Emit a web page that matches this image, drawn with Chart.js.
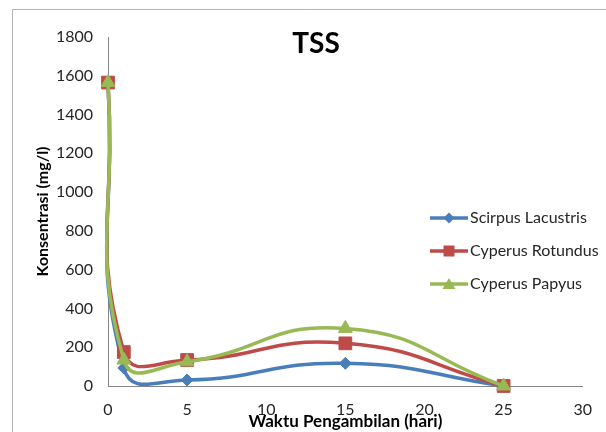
<!DOCTYPE html>
<html>
<head>
<meta charset="utf-8">
<script src="https://cdn.jsdelivr.net/npm/chart.js@4.4.1/dist/chart.umd.min.js"></script>
<style>
  html, body { margin: 0; padding: 0; background: #fff; }
  #wrap { width: 606px; height: 432px; position: relative; }
</style>
</head>
<body>
<div id="wrap"><canvas id="chart" width="606" height="432"></canvas></div>
<script>
const days = [0, 1, 5, 15, 25]
const scirpusLacustris = [1565, 93, 31, 117, 0]
const cyperusRotundus = [1565, 175, 134, 220, 0]
const cyperusPapyus = [1565, 134, 125, 297, 0]
const seriesNames = ['Scirpus Lacustris', 'Cyperus Rotundus', 'Cyperus Papyus']
const xTicks = [0, 5, 10, 15, 20, 25, 30]
const yTicks = [0, 200, 400, 600, 800, 1000, 1200, 1400, 1600, 1800]

const FONT = 'Lato, "Open Sans", sans-serif'
const TEXT = '#262626'

function toPoints(values) {
  return values.map((v, i) => ({ x: days[i], y: v }))
}

function makeDataset(label, values, color, style, radius, order) {
  return {
    label: label,
    data: toPoints(values),
    borderColor: color,
    backgroundColor: color,
    borderWidth: 3.5,
    showLine: true,
    tension: 0.5,
    pointStyle: style,
    pointRadius: radius,
    pointHoverRadius: radius,
    pointBorderWidth: 1,
    pointBackgroundColor: color,
    pointBorderColor: color,
    clip: false,
    order: order
  }
}

// frame, title and the excel-like legend drawn over the plot
const decorPlugin = {
  id: 'decor',
  beforeDraw(chart) {
    const ctx = chart.ctx
    ctx.save()
    ctx.fillStyle = '#fff'
    ctx.fillRect(0, 0, chart.width, chart.height)
    ctx.strokeStyle = '#b4b4b4'
    ctx.lineWidth = 1
    ctx.beginPath()
    ctx.moveTo(12.5, chart.height)
    ctx.lineTo(12.5, 9.5)
    ctx.lineTo(chart.width, 9.5)
    ctx.stroke()
    ctx.restore()
  },
  afterDraw(chart) {
    const ctx = chart.ctx
    ctx.save()
    ctx.fillStyle = '#000'
    ctx.font = 'bold 28px ' + FONT
    ctx.textAlign = 'center'
    ctx.textBaseline = 'middle'
    ctx.fillText('TSS', 316, 44)

    const lx = 430, ly = 218, gap = 33
    chart.data.datasets.forEach((ds, i) => {
      const y = ly + i * gap
      ctx.strokeStyle = ds.borderColor
      ctx.lineWidth = 3.5
      ctx.beginPath()
      ctx.moveTo(lx, y)
      ctx.lineTo(lx + 38, y)
      ctx.stroke()
      drawMarker(ctx, ds.pointStyle, lx + 19, y, ds.borderColor)
      ctx.fillStyle = TEXT
      ctx.font = '16px ' + FONT
      ctx.textAlign = 'left'
      ctx.textBaseline = 'middle'
      ctx.fillText(ds.label, lx + 40, y)
    })
    ctx.restore()
  }
}

function drawMarker(ctx, style, x, y, color) {
  ctx.fillStyle = color
  ctx.beginPath()
  if (style === 'rect') {
    ctx.rect(x - 5.5, y - 5.5, 11, 11)
  } else if (style === 'rectRot') {
    ctx.moveTo(x, y - 5.5)
    ctx.lineTo(x + 5.5, y)
    ctx.lineTo(x, y + 5.5)
    ctx.lineTo(x - 5.5, y)
    ctx.closePath()
  } else {
    ctx.moveTo(x, y - 6)
    ctx.lineTo(x + 6.5, y + 5)
    ctx.lineTo(x - 6.5, y + 5)
    ctx.closePath()
  }
  ctx.fill()
}

const ctx = document.getElementById('chart').getContext('2d')

new Chart(ctx, {
  type: 'scatter',
  data: {
    datasets: [
      makeDataset(seriesNames[0], scirpusLacustris, '#4a7ebb', 'rectRot', 6, 2),
      makeDataset(seriesNames[1], cyperusRotundus, '#be4b48', 'rect', 9, 1),
      makeDataset(seriesNames[2], cyperusPapyus, '#98b954', 'triangle', 8, 0)
    ]
  },
  options: {
    responsive: false,
    animation: false,
    events: [],
    elements: {
      line: { capBezierPoints: false }
    },
    layout: {
      padding: { top: 37, right: 13, bottom: 0, left: 12 }
    },
    plugins: {
      legend: { display: false },
      title: { display: false },
      tooltip: { enabled: false }
    },
    scales: {
      x: {
        type: 'linear',
        min: 0,
        max: 30,
        afterBuildTicks: (scale) => { scale.ticks = xTicks.map(v => ({ value: v })) },
        afterFit: (scale) => { scale.height = 46 },
        grid: { display: false, drawTicks: false },
        border: { display: true, color: '#868686', width: 1 },
        ticks: {
          padding: 14,
          color: TEXT,
          font: { family: FONT, size: 16 },
          callback: (v) => String(v)
        },
        title: {
          display: true,
          text: 'Waktu Pengambilan (hari)',
          color: '#000',
          font: { family: FONT, size: 17, weight: 'bold' },
          padding: { top: 0, bottom: 0 }
        }
      },
      y: {
        type: 'linear',
        min: 0,
        max: 1800,
        afterBuildTicks: (scale) => { scale.ticks = yTicks.map(v => ({ value: v })) },
        afterFit: (scale) => { scale.width = 96 },
        grid: { display: false, drawTicks: false },
        border: { display: true, color: '#868686', width: 1 },
        ticks: {
          padding: 15,
          color: TEXT,
          font: { family: FONT, size: 16 },
          callback: (v) => String(v)
        },
        title: {
          display: true,
          text: 'Konsentrasi (mg/l)',
          color: '#000',
          font: { family: FONT, size: 16, weight: 'bold' },
          padding: { top: 21, bottom: 0 }
        }
      }
    }
  },
  plugins: [decorPlugin]
})
</script>
</body>
</html>
